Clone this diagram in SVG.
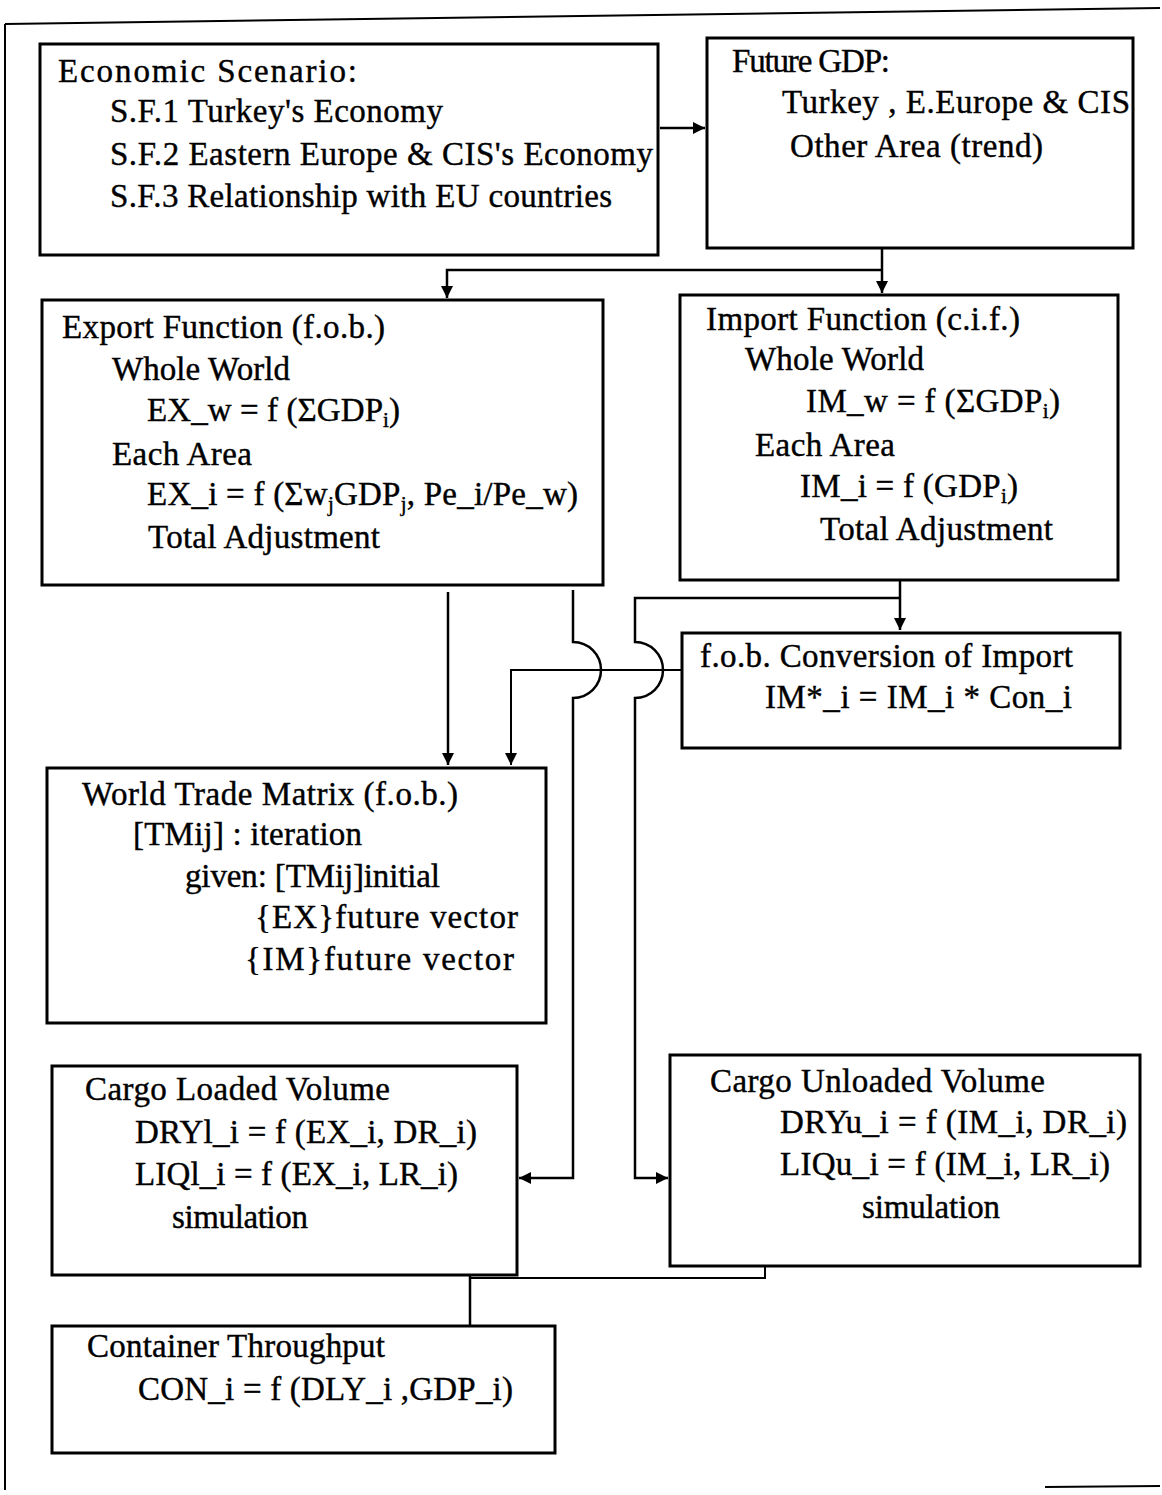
<svg xmlns="http://www.w3.org/2000/svg" width="1162" height="1495" viewBox="0 0 1162 1495">
<style>
  .box { fill: #fff; stroke: #000; stroke-width: 3; }
  .t { font-family: "Liberation Serif", "Times New Roman", serif; font-size: 33px; fill: #000; stroke: #000; stroke-width: 0.4; }
  .c { fill: none; stroke: #000; stroke-width: 2.5; }
  .thin { stroke-width: 2; }
  .frame { fill: none; stroke: #000; stroke-width: 2; }
</style>
<defs>
  <marker id="ah" viewBox="0 0 10 10" refX="10" refY="5" markerWidth="12" markerHeight="12" markerUnits="userSpaceOnUse" orient="auto">
    <path d="M0,0 L10,5 L0,10 z" fill="#000"/>
  </marker>
</defs>
<rect width="1162" height="1495" fill="#fff"/>

<g id="frame">
  <path class="frame" d="M5,24 L1160,8"/>
  <path class="frame" d="M5,24 L5,1490"/>
  <path class="frame" d="M1045,1487 L1160,1486"/>
</g>

<g id="connectors">
  <path class="c" d="M660,128 H705" marker-end="url(#ah)"/>
  <path class="c" d="M882,248 V293" marker-end="url(#ah)"/>
  <path class="c" d="M882,270 H447 V298" marker-end="url(#ah)"/>
  <path class="c" d="M448,592 V765" marker-end="url(#ah)"/>
  <path class="c" d="M573,590 V642 A28,28 0 0 1 573,698 V1178 H519" marker-end="url(#ah)"/>
  <path class="c" d="M900,580 V630" marker-end="url(#ah)"/>
  <path class="c" d="M900,598 H635 V642 A28,28 0 0 1 635,698 V1178 H668" marker-end="url(#ah)"/>
  <path class="c thin" d="M682,670 H511 V765" marker-end="url(#ah)"/>
  <path class="c" d="M470,1275 V1326"/>
  <path class="c thin" d="M470,1278 H765 V1266"/>
</g>

<g id="economic-scenario">
  <rect class="box" x="40" y="44" width="618" height="211"/>
  <text class="t" x="58" y="82" textLength="299">Economic Scenario:</text>
  <text class="t" x="110" y="122" textLength="333">S.F.1 Turkey's Economy</text>
  <text class="t" x="110" y="165" textLength="543">S.F.2 Eastern Europe &amp; CIS's Economy</text>
  <text class="t" x="110" y="207" textLength="502">S.F.3 Relationship with EU countries</text>
</g>

<g id="future-gdp">
  <rect class="box" x="707" y="38" width="426" height="210"/>
  <text class="t" x="732" y="72" textLength="158">Future GDP:</text>
  <text class="t" x="782" y="113" textLength="348">Turkey , E.Europe &amp; CIS</text>
  <text class="t" x="790" y="157" textLength="253">Other Area (trend)</text>
</g>

<g id="export-function">
  <rect class="box" x="42" y="300" width="561" height="285"/>
  <text class="t" x="62" y="338" textLength="323">Export Function (f.o.b.)</text>
  <text class="t" x="112" y="380" textLength="178">Whole World</text>
  <text class="t" x="147" y="421" textLength="253">EX_w = f (ΣGDP<tspan font-size="21" dy="6">i</tspan><tspan dy="-6">)</tspan></text>
  <text class="t" x="112" y="465" textLength="140">Each Area</text>
  <text class="t" x="147" y="505" textLength="431">EX_i = f (Σw<tspan font-size="21" dy="6">j</tspan><tspan dy="-6">GDP</tspan><tspan font-size="21" dy="6">j</tspan><tspan dy="-6">, Pe_i/Pe_w)</tspan></text>
  <text class="t" x="148" y="548" textLength="232">Total Adjustment</text>
</g>

<g id="import-function">
  <rect class="box" x="680" y="295" width="438" height="285"/>
  <text class="t" x="706" y="330" textLength="314">Import Function (c.i.f.)</text>
  <text class="t" x="745" y="370" textLength="179">Whole World</text>
  <text class="t" x="806" y="412" textLength="254">IM_w = f (ΣGDP<tspan font-size="21" dy="6">i</tspan><tspan dy="-6">)</tspan></text>
  <text class="t" x="755" y="456" textLength="140">Each Area</text>
  <text class="t" x="800" y="497" textLength="218">IM_i = f (GDP<tspan font-size="21" dy="6">i</tspan><tspan dy="-6">)</tspan></text>
  <text class="t" x="820" y="540" textLength="233">Total Adjustment</text>
</g>

<g id="fob-conversion">
  <rect class="box" x="682" y="633" width="438" height="115"/>
  <text class="t" x="700" y="667" textLength="373">f.o.b. Conversion of Import</text>
  <text class="t" x="765" y="708" textLength="307">IM*_i = IM_i * Con_i</text>
</g>

<g id="world-trade-matrix">
  <rect class="box" x="47" y="768" width="499" height="255"/>
  <text class="t" x="82" y="805" textLength="376">World Trade Matrix (f.o.b.)</text>
  <text class="t" x="133" y="845" textLength="229">[TMij] : iteration</text>
  <text class="t" x="185" y="887" textLength="255">given: [TMij]initial</text>
  <text class="t" x="255" y="928" textLength="263">{EX}future vector</text>
  <text class="t" x="245" y="970" textLength="269">{IM}future vector</text>
</g>

<g id="cargo-loaded">
  <rect class="box" x="52" y="1066" width="465" height="209"/>
  <text class="t" x="85" y="1100" textLength="305">Cargo Loaded Volume</text>
  <text class="t" x="135" y="1143" textLength="342">DRYl_i = f (EX_i, DR_i)</text>
  <text class="t" x="135" y="1185" textLength="323">LIQl_i = f (EX_i, LR_i)</text>
  <text class="t" x="172" y="1228" textLength="136">simulation</text>
</g>

<g id="cargo-unloaded">
  <rect class="box" x="670" y="1055" width="470" height="211"/>
  <text class="t" x="710" y="1092" textLength="335">Cargo Unloaded Volume</text>
  <text class="t" x="780" y="1133" textLength="347">DRYu_i = f (IM_i, DR_i)</text>
  <text class="t" x="780" y="1175" textLength="330">LIQu_i = f (IM_i, LR_i)</text>
  <text class="t" x="862" y="1218" textLength="138">simulation</text>
</g>

<g id="container-throughput">
  <rect class="box" x="52" y="1326" width="503" height="127"/>
  <text class="t" x="87" y="1357" textLength="298">Container Throughput</text>
  <text class="t" x="138" y="1400" textLength="375">CON_i = f (DLY_i ,GDP_i)</text>
</g>
</svg>
